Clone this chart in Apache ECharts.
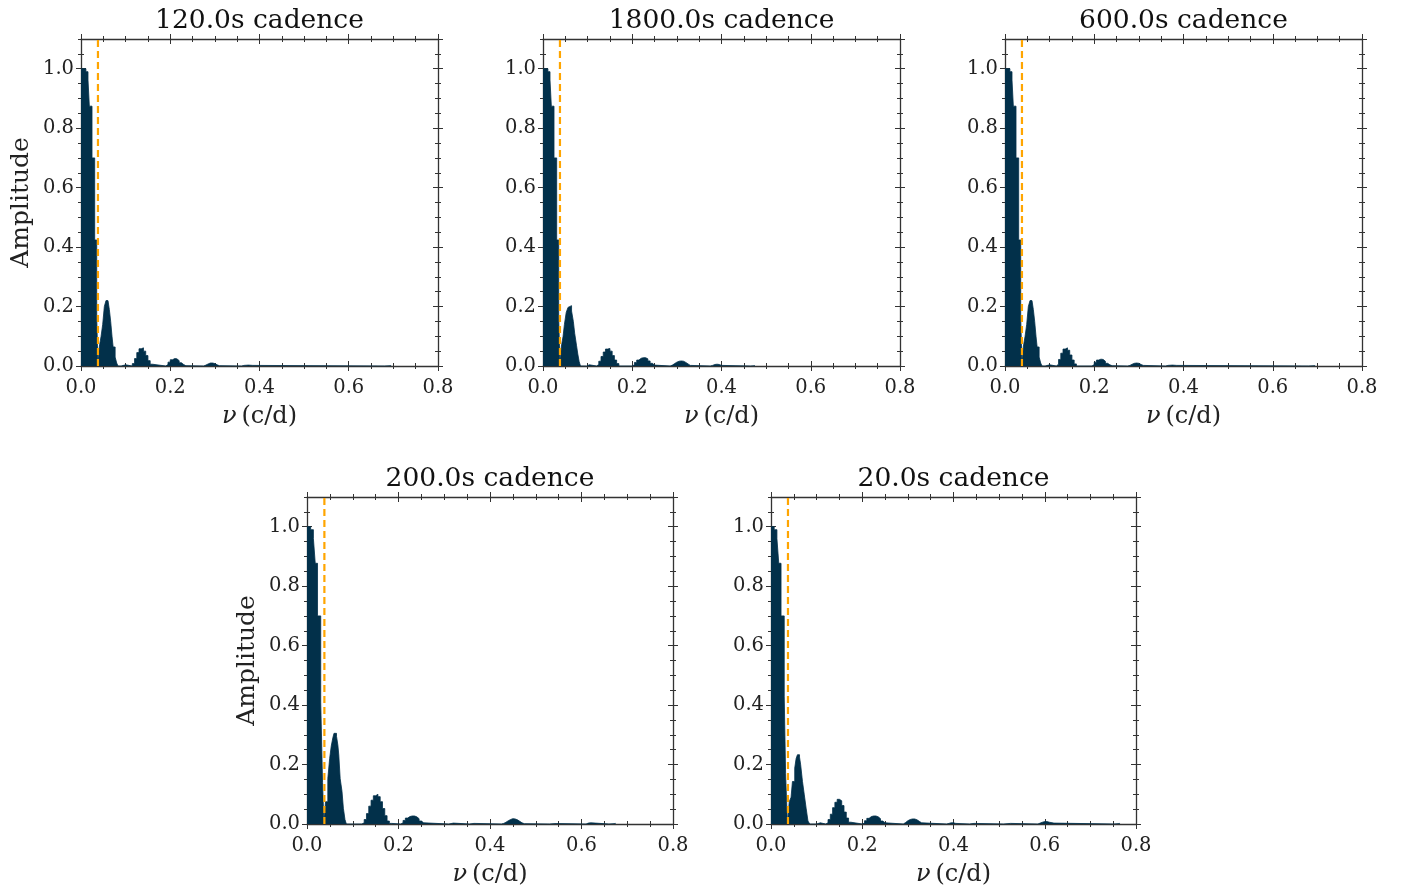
<!DOCTYPE html>
<html>
<head>
<meta charset="utf-8">
<script src="https://cdn.jsdelivr.net/npm/echarts@6/dist/echarts.min.js"></script>
<style>
html,body{margin:0;padding:0;background:#fff;}
#chart{width:1406px;height:892px;}
</style>
</head>
<body>
<div id="chart"></div>
<script>
// ---- data (step levels: [frequency start, amplitude]) ----
const titles = ['120.0s cadence', '1800.0s cadence', '600.0s cadence', '200.0s cadence', '20.0s cadence'];
const xTicks = [0.0, 0.2, 0.4, 0.6, 0.8];
const yTicks = [0.0, 0.2, 0.4, 0.6, 0.8, 1.0];
const resolutionLine = [0.038, 0.038, 0.038, 0.038, 0.0372];

const spec120 = [
[0,1.0],[0.011,0.99],[0.0157,0.962],[0.0187,0.874],[0.0247,0.70],[0.0307,0.424],[0.0352,0.165],[0.038,0],
[0.041,0.064],[0.045,0.10],[0.0486,0.14],[0.0523,0.20],[0.056,0.22],[0.0605,0.215],[0.0635,0.19],[0.0665,0.15],[0.0695,0.10],[0.072,0.064],[0.0765,0.03],[0.080,0.01],[0.083,0],
[0.090,0.004],[0.100,0],
[0.115,0.008],[0.120,0.025],[0.125,0.045],[0.130,0.058],[0.135,0.061],[0.140,0.05],[0.145,0.035],[0.150,0.018],[0.155,0.006],[0.160,0],
[0.190,0.005],[0.195,0.013],[0.200,0.021],[0.205,0.025],[0.210,0.024],[0.215,0.018],[0.220,0.011],[0.225,0.005],[0.230,0.001],[0.235,0],
[0.275,0.003],[0.280,0.007],[0.285,0.010],[0.290,0.010],[0.295,0.008],[0.300,0.004],[0.305,0.001],[0.310,0],
[0.360,0.002],[0.365,0.003],[0.375,0.002],[0.385,0],
[0.680,0.0015],[0.695,0]
];

const spec1800 = [
[0,1.0],[0.011,0.99],[0.0157,0.962],[0.0187,0.874],[0.0247,0.70],[0.0307,0.424],[0.0352,0.165],[0.038,0],
[0.041,0.064],[0.045,0.10],[0.048,0.14],[0.052,0.18],[0.056,0.197],[0.059,0.203],[0.064,0.185],[0.068,0.15],[0.071,0.11],[0.075,0.07],[0.078,0.04],[0.081,0.015],[0.084,0],
[0.098,0.004],[0.104,0],
[0.120,0.005],[0.125,0.016],[0.130,0.032],[0.135,0.047],[0.140,0.057],[0.145,0.059],[0.150,0.05],[0.155,0.035],[0.160,0.02],[0.165,0.008],[0.170,0],
[0.200,0.004],[0.205,0.012],[0.210,0.02],[0.215,0.026],[0.220,0.028],[0.225,0.028],[0.230,0.024],[0.235,0.017],[0.240,0.009],[0.245,0.003],[0.250,0],
[0.285,0.003],[0.290,0.008],[0.295,0.013],[0.300,0.016],[0.305,0.017],[0.310,0.016],[0.315,0.012],[0.320,0.007],[0.325,0.002],[0.330,0],
[0.375,0.002],[0.380,0.005],[0.385,0.006],[0.390,0.005],[0.395,0.002],[0.400,0],
[0.465,0.0015],[0.475,0]
];

const spec600 = [
[0,1.0],[0.011,0.99],[0.0157,0.962],[0.0187,0.874],[0.0247,0.70],[0.0307,0.424],[0.0352,0.165],[0.038,0],
[0.041,0.064],[0.045,0.10],[0.0486,0.14],[0.0523,0.20],[0.056,0.22],[0.0605,0.215],[0.0635,0.19],[0.0665,0.15],[0.0695,0.10],[0.072,0.064],[0.0765,0.03],[0.080,0.01],[0.083,0],
[0.090,0.004],[0.100,0],
[0.115,0.006],[0.120,0.022],[0.125,0.043],[0.130,0.057],[0.135,0.061],[0.140,0.053],[0.145,0.037],[0.150,0.02],[0.155,0.007],[0.160,0],
[0.195,0.005],[0.200,0.013],[0.205,0.02],[0.210,0.023],[0.215,0.022],[0.220,0.016],[0.225,0.009],[0.230,0.004],[0.235,0.001],[0.240,0],
[0.275,0.002],[0.280,0.006],[0.285,0.009],[0.290,0.010],[0.295,0.009],[0.300,0.005],[0.305,0.002],[0.310,0],
[0.360,0.002],[0.365,0.003],[0.375,0.002],[0.385,0],
[0.680,0.0015],[0.695,0]
];

const spec200 = [
[0,1.0],[0.008,0.99],[0.014,0.96],[0.018,0.877],[0.023,0.70],[0.030,0.41],[0.034,0.14],[0.037,0],
[0.0405,0.075],[0.0455,0.153],[0.0495,0.22],[0.053,0.262],[0.0565,0.29],[0.059,0.305],[0.0645,0.295],[0.0675,0.265],[0.0695,0.232],[0.0725,0.153],[0.0765,0.11],[0.0795,0.053],[0.083,0.015],[0.086,0],
[0.120,0.004],[0.125,0.015],[0.130,0.035],[0.135,0.06],[0.140,0.08],[0.145,0.095],[0.150,0.10],[0.155,0.092],[0.160,0.075],[0.165,0.052],[0.170,0.028],[0.175,0.01],[0.180,0.002],[0.185,0],
[0.205,0.004],[0.210,0.012],[0.215,0.02],[0.220,0.025],[0.225,0.027],[0.230,0.027],[0.235,0.024],[0.240,0.018],[0.245,0.01],[0.250,0.004],[0.255,0],
[0.310,0.003],[0.320,0],
[0.355,0.002],[0.365,0],
[0.425,0.002],[0.430,0.006],[0.435,0.011],[0.440,0.015],[0.445,0.018],[0.450,0.017],[0.455,0.014],[0.460,0.009],[0.465,0.004],[0.470,0.001],[0.475,0],
[0.530,0.0015],[0.545,0],
[0.610,0.003],[0.615,0.004],[0.620,0.003],[0.630,0],
[0.660,0.002],[0.675,0]
];

const spec20 = [
[0,1.0],[0.007,0.99],[0.013,0.96],[0.017,0.877],[0.022,0.70],[0.029,0.43],[0.032,0.17],[0.036,0],
[0.040,0.075],[0.044,0.09],[0.047,0.143],[0.052,0.188],[0.055,0.22],[0.058,0.233],[0.0625,0.225],[0.065,0.199],[0.069,0.143],[0.073,0.098],[0.077,0.053],[0.081,0.01],[0.085,0],
[0.100,0.004],[0.108,0],
[0.120,0.004],[0.125,0.015],[0.130,0.033],[0.135,0.055],[0.140,0.073],[0.145,0.083],[0.150,0.078],[0.155,0.062],[0.160,0.04],[0.165,0.02],[0.170,0.006],[0.175,0],
[0.200,0.003],[0.205,0.011],[0.210,0.019],[0.215,0.025],[0.220,0.027],[0.225,0.027],[0.230,0.024],[0.235,0.018],[0.240,0.01],[0.245,0.004],[0.250,0],
[0.290,0.005],[0.295,0.011],[0.300,0.015],[0.305,0.017],[0.310,0.017],[0.315,0.014],[0.320,0.009],[0.325,0.004],[0.330,0],
[0.385,0.002],[0.390,0.004],[0.395,0.004],[0.400,0.002],[0.405,0],
[0.435,0.002],[0.445,0],
[0.510,0.002],[0.525,0],
[0.585,0.003],[0.590,0.006],[0.595,0.008],[0.600,0.008],[0.605,0.006],[0.610,0.003],[0.620,0],
[0.750,0.002],[0.765,0]
];

const spectra = [spec120, spec1800, spec600, spec200, spec20];
const showYName = [true, false, false, true, false];

// ---- layout / style ----
const boxes = [
  [81, 39, 357, 327],
  [543, 39, 357, 327],
  [1005, 39, 357, 327],
  [307, 497, 366, 327],
  [771, 497, 365, 327]
];
const FONT = 'DejaVu Serif';
const NAVY = '#02304a';
const ORANGE = '#FFA500';
const AX = '#333333';
const X_MAX = xTicks[xTicks.length - 1];
const X_MAJOR = xTicks[1] - xTicks[0];
const Y_MAJOR = yTicks[1] - yTicks[0];
const Y_MAX = 1.1;

const grids = [], xAxes = [], yAxes = [], series = [];

boxes.forEach((b, k) => {
  grids.push({ left: b[0], top: b[1], width: b[2], height: b[3], containLabel: false });
  let xMain = -1, yMain = -1;
  ['bottom', 'top'].forEach(pos => {
    [[X_MAJOR, 5], [0.05, 3]].forEach(([iv, len], j) => {
      [false, true].forEach(inside => {
        const main = (j === 0 && !inside);
        if (main && pos === 'bottom') xMain = xAxes.length;
        const ax = {
          gridIndex: k, type: 'value', position: pos, min: 0, max: X_MAX, interval: iv,
          axisLine: { show: main, onZero: false, lineStyle: { color: AX, width: 1.3 } },
          axisTick: { show: true, inside: inside, length: len, lineStyle: { color: AX, width: 1 } },
          axisLabel: {
            show: main && pos === 'bottom', margin: 12,
            fontFamily: FONT, fontSize: 19.5, color: '#222',
            formatter: v => v.toFixed(1)
          },
          splitLine: { show: false }
        };
        if (main && pos === 'bottom') {
          ax.name = '{i|ν}\u2009(c/d)';
          ax.nameLocation = 'middle';
          ax.nameGap = 39;
          ax.nameTextStyle = {
            fontFamily: FONT, fontSize: 24, color: '#222',
            rich: { i: { fontFamily: FONT, fontStyle: 'italic', fontSize: 24, color: '#222' } }
          };
        }
        if (main && pos === 'top') {
          ax.name = titles[k];
          ax.nameLocation = 'middle';
          ax.nameGap = 4;
          ax.nameTextStyle = { fontFamily: FONT, fontSize: 26.5, color: '#111' };
        }
        xAxes.push(ax);
      });
    });
  });
  ['left', 'right'].forEach(pos => {
    [[Y_MAJOR, 5], [0.05, 3]].forEach(([iv, len], j) => {
      [false, true].forEach(inside => {
        const main = (j === 0 && !inside);
        if (main && pos === 'left') yMain = yAxes.length;
        const ax = {
          gridIndex: k, type: 'value', position: pos, min: 0, max: Y_MAX, interval: iv,
          axisLine: { show: main, onZero: false, lineStyle: { color: AX, width: 1.3 } },
          axisTick: { show: true, inside: inside, length: len, lineStyle: { color: AX, width: 1 } },
          axisLabel: {
            show: main && pos === 'left', margin: 7, showMaxLabel: false,
            fontFamily: FONT, fontSize: 19.5, color: '#222',
            formatter: v => v.toFixed(1)
          },
          splitLine: { show: false }
        };
        if (main && pos === 'left' && showYName[k]) {
          ax.name = 'Amplitude';
          ax.nameLocation = 'middle';
          ax.nameGap = 47;
          ax.nameTextStyle = { fontFamily: FONT, fontSize: 25, color: '#222' };
        }
        yAxes.push(ax);
      });
    });
  });
  series.push({
    type: 'line', xAxisIndex: xMain, yAxisIndex: yMain,
    data: spectra[k], step: 'end', symbol: 'none', silent: true,
    lineStyle: { color: NAVY, width: 0.8 },
    areaStyle: { color: NAVY, opacity: 1 },
    z: 2
  });
  series.push({
    type: 'line', xAxisIndex: xMain, yAxisIndex: yMain,
    data: [[resolutionLine[k], 0], [resolutionLine[k], Y_MAX]],
    symbol: 'none', silent: true,
    lineStyle: { color: ORANGE, width: 2.2, type: [7, 4] },
    z: 5
  });
});

const chart = echarts.init(document.getElementById('chart'), null, { renderer: 'canvas' });
chart.setOption({
  animation: false,
  backgroundColor: '#ffffff',
  grid: grids,
  xAxis: xAxes,
  yAxis: yAxes,
  series: series
});
</script>
</body>
</html>
